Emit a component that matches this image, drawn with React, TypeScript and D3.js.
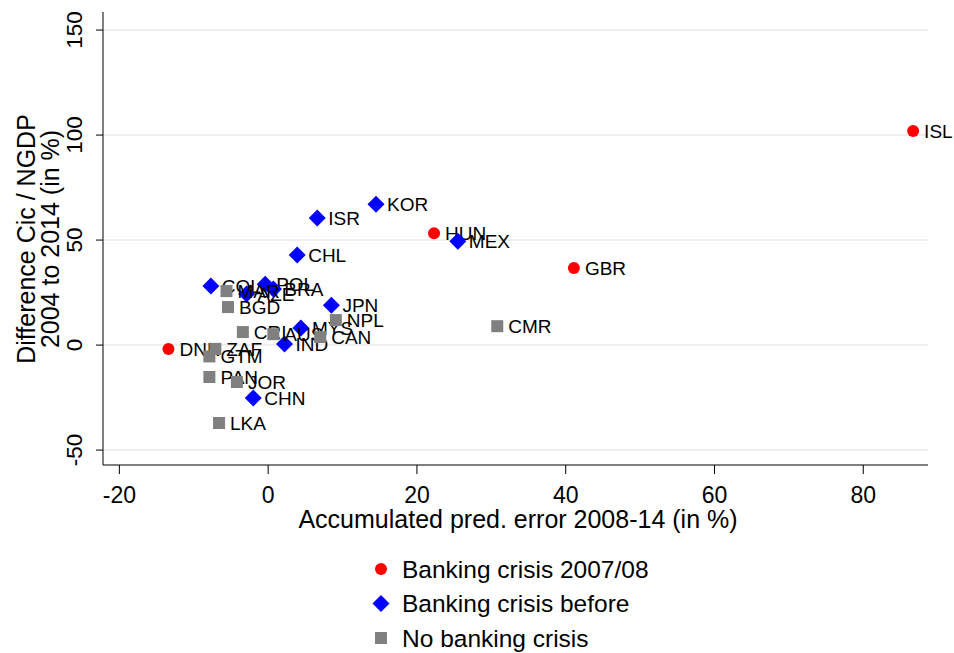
import React from "react";
import * as d3 from "d3";

// Country codes, grouped by banking-crisis history
const redCodes = ["ISL", "HUN", "GBR", "DNK"];
const redX = [86.7, 22.3, 41.1, -13.4];
const redY = [101.9, 53.3, 36.7, -1.9];

const blueCodes = ["KOR", "ISR", "MEX", "CHL", "COL", "POL", "AZE", "BRA", "JPN", "MYS", "IND", "CHN"];
const blueX = [14.5, 6.6, 25.5, 3.9, -7.7, -0.4, -2.9, 0.7, 8.5, 4.4, 2.2, -2.0];
const blueY = [67.1, 60.5, 49.5, 42.9, 28.1, 29.0, 24.3, 26.7, 19.0, 8.1, 0.5, -25.2];

const grayCodes = ["MAR", "BGD", "NPL", "CMR", "CRI", "AUS", "CAN", "ZAF", "GTM", "PAN", "JOR", "LKA"];
const grayX = [-5.6, -5.4, 9.1, 30.8, -3.4, 0.7, 7.0, -7.1, -7.9, -7.9, -4.2, -6.6];
const grayY = [25.7, 18.1, 11.9, 9.0, 6.2, 5.2, 3.8, -1.8, -5.4, -15.2, -17.6, -37.1];

const xTicks = [-20, 0, 20, 40, 60, 80];
const yTicks = [-50, 0, 50, 100, 150];

const legendLabels = ["Banking crisis 2007/08", "Banking crisis before", "No banking crisis"];

const W = 954;
const H = 653;
const left = 103;
const right = 928;
const top = 12;
const bottom = 465;

const x = d3.scaleLinear().domain([-22.2, 88.7]).range([left, right]);
const y = d3.scaleLinear().domain([-57.1, 158.6]).range([bottom, top]);

const FONT = "'Liberation Sans', Arial, Helvetica, sans-serif";
const RED = "#ff0000";
const BLUE = "#0000ff";
const GRAY = "#808080";

type Shape = "circle" | "diamond" | "square";

function Marker({ cx, cy, shape, color }: { cx: number; cy: number; shape: Shape; color: string }) {
  if (shape === "circle") return <circle cx={cx} cy={cy} r={6} fill={color} />;
  if (shape === "diamond") {
    const r = 8.5;
    return <path d={`M${cx},${cy - r}L${cx + r},${cy}L${cx},${cy + r}L${cx - r},${cy}Z`} fill={color} />;
  }
  const h = 6;
  return <rect x={cx - h} y={cy - h} width={2 * h} height={2 * h} fill={color} />;
}

function Group({ codes, xs, ys, shape, color }: { codes: string[]; xs: number[]; ys: number[]; shape: Shape; color: string }) {
  return (
    <g>
      {codes.map((c, i) => {
        const cx = x(xs[i]);
        const cy = y(ys[i]);
        return (
          <g key={c}>
            <Marker cx={cx} cy={cy} shape={shape} color={color} />
            <text x={cx + 11} y={cy} dy="0.36em" fontSize={19} fontFamily={FONT} fill="#000">
              {c}
            </text>
          </g>
        );
      })}
    </g>
  );
}

export default function App() {
  const legendShapes: Shape[] = ["circle", "diamond", "square"];
  const legendColors = [RED, BLUE, GRAY];
  return (
    <svg width={W} height={H} style={{ position: "absolute", left: 0, top: 0, background: "#fff" }}>
      <rect width={W} height={H} fill="#fff" />
      {/* horizontal gridlines */}
      {yTicks.map((t) => (
        <line key={t} x1={left} x2={right} y1={y(t)} y2={y(t)} stroke="#e8e8e8" strokeWidth={1.5} />
      ))}
      {/* axes */}
      <line x1={left} x2={left} y1={top} y2={bottom} stroke="#000" strokeWidth={1} />
      <line x1={left} x2={right} y1={bottom} y2={bottom} stroke="#000" strokeWidth={1} />
      {yTicks.map((t) => (
        <g key={t}>
          <line x1={left - 7} x2={left} y1={y(t)} y2={y(t)} stroke="#000" />
          <text
            transform={`translate(${left - 21},${y(t)}) rotate(-90)`}
            textAnchor="middle"
            fontSize={22.5}
            fontFamily={FONT}
          >
            {t}
          </text>
        </g>
      ))}
      {xTicks.map((t) => (
        <g key={t}>
          <line x1={x(t)} x2={x(t)} y1={bottom} y2={bottom + 9} stroke="#000" />
          <text x={x(t)} y={bottom + 38} textAnchor="middle" fontSize={23} fontFamily={FONT}>
            {t}
          </text>
        </g>
      ))}
      <text x={518} y={528} textAnchor="middle" fontSize={25} fontFamily={FONT}>
        Accumulated pred. error 2008-14 (in %)
      </text>
      <text transform={`translate(35,239) rotate(-90)`} textAnchor="middle" fontSize={25} fontFamily={FONT}>
        Difference Cic / NGDP
      </text>
      <text transform={`translate(59,239) rotate(-90)`} textAnchor="middle" fontSize={25} fontFamily={FONT}>
        2004 to 2014 (in %)
      </text>

      <Group codes={redCodes} xs={redX} ys={redY} shape="circle" color={RED} />
      <Group codes={blueCodes} xs={blueX} ys={blueY} shape="diamond" color={BLUE} />
      <Group codes={grayCodes} xs={grayX} ys={grayY} shape="square" color={GRAY} />

      {/* legend */}
      {legendLabels.map((l, i) => {
        const ly = 569 + i * 34.5;
        return (
          <g key={l}>
            <Marker cx={381} cy={ly} shape={legendShapes[i]} color={legendColors[i]} />
            <text x={402} y={ly} dy="0.36em" fontSize={24.5} fontFamily={FONT}>
              {l}
            </text>
          </g>
        );
      })}
    </svg>
  );
}
